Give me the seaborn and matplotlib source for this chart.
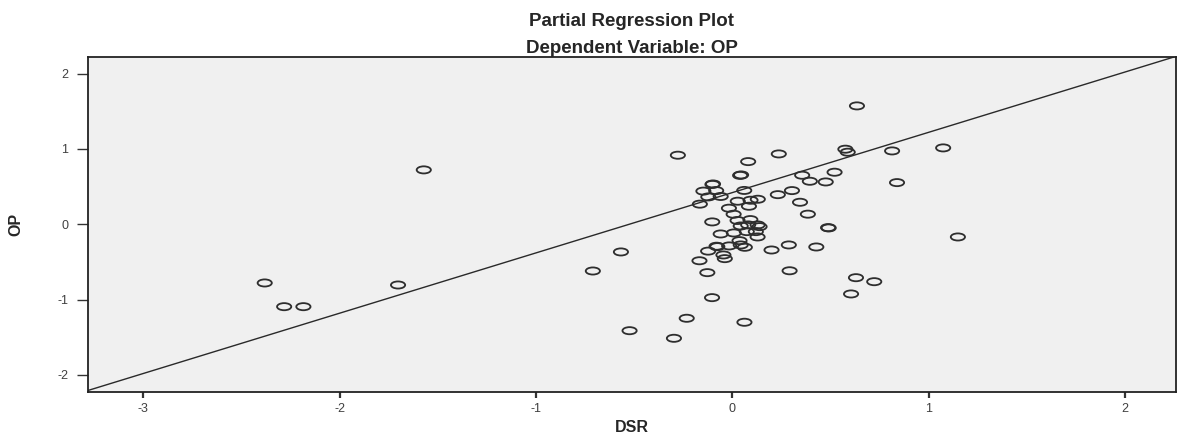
import numpy as np
import pandas as pd
import matplotlib
matplotlib.use("Agg")
import matplotlib.pyplot as plt
from matplotlib.path import Path
from matplotlib.transforms import Affine2D
import seaborn as sns

# ── data ────────────────────────────────────────────────────────────────────
dsr = [-1.571, -2.381, -2.282, -2.184, -1.702,
       0.635, -0.277, 0.081, 0.237, 0.576, 0.588, 0.814, 1.074, 0.839,
       0.040, 0.045, 0.356, 0.521, 0.395, 0.476, -0.101, -0.098,
       -0.147, -0.082, 0.061, 0.304, -0.122, -0.059, 0.232, -0.165,
       0.028, 0.093, 0.130, 0.085, 0.345, -0.017, 0.385, 0.007,
       -0.102, 0.092, 0.027, 0.491, 0.488,
       0.043, 0.081, 0.129, 0.139, 0.074, 0.120, -0.059, 0.008, 0.129,
       1.149, -0.567, 0.037, -0.076, -0.080, -0.016, 0.043, 0.064, 0.288,
       0.428, 0.200, -0.123, -0.045, -0.038, -0.167, -0.710, -0.127,
       0.292, 0.630, 0.723, 0.605, -0.103, -0.232, 0.062, -0.523, -0.297]
op = [0.722, -0.780, -1.095, -1.095, -0.807,
      1.572, 0.917, 0.832, 0.934, 0.997, 0.957, 0.974, 1.014, 0.553,
      0.649, 0.655, 0.651, 0.691, 0.571, 0.562, 0.529, 0.535,
      0.440, 0.447, 0.449, 0.447, 0.363, 0.369, 0.393, 0.267,
      0.306, 0.319, 0.332, 0.239, 0.292, 0.213, 0.134, 0.133,
      0.031, 0.062, 0.050, -0.049, -0.045,
      -0.023, -0.009, -0.009, -0.032, -0.098, -0.098, -0.129, -0.116, -0.169,
      -0.169, -0.368, -0.218, -0.298, -0.292, -0.288, -0.275, -0.306, -0.275,
      -0.302, -0.342, -0.357, -0.408, -0.457, -0.485, -0.621, -0.643,
      -0.618, -0.710, -0.763, -0.926, -0.975, -1.249, -1.302, -1.414, -1.515]

fit_slope = 0.801
fit_intercept = 0.42

x_ticks = [-3, -2, -1, 0, 1, 2]
y_ticks = [-2, -1, 0, 1, 2]

df = pd.DataFrame({"DSR": dsr, "OP": op})

# ── style ───────────────────────────────────────────────────────────────────
sns.set_style("ticks")
plt.rcParams['font.family'] = ['Liberation Sans', 'DejaVu Sans']
plt.rcParams['axes.unicode_minus'] = False

# SPSS 的圓圈被橫向拉長，用橢圓 marker
ellipse = Path.unit_circle().transformed(Affine2D().scale(1.0, 0.5))

fig = plt.figure(figsize=(11.79, 4.36), dpi=100)
ax = fig.add_axes([0.0743, 0.1015, 0.9232, 0.7675])
ax.set_facecolor("#f0f0f0")

sns.scatterplot(data=df, x="DSR", y="OP", ax=ax, marker=ellipse, s=105,
                facecolor="none", edgecolor="#2e2e2e", linewidth=1.3,
                legend=False, zorder=3)

ax.axline((0, fit_intercept), slope=fit_slope, color="#2a2a2a", lw=1.0, zorder=2)

ax.set_xlim(-3.283, 2.26)
ax.set_ylim(-2.225, 2.22)
ax.set_xticks(x_ticks)
ax.set_yticks(y_ticks)
ax.tick_params(axis="x", length=4, width=1.6, colors="#333333", labelsize=9, pad=4)
ax.tick_params(axis="y", length=8, width=1.0, colors="#333333", labelsize=9, pad=6)
for t in ax.get_xticklabels() + ax.get_yticklabels():
    t.set_color("#404040")
for sp in ax.spines.values():
    sp.set_color("#222222")
    sp.set_linewidth(1.3)

ax.set_xlabel("DSR", fontsize=11.5, fontweight="bold", labelpad=4)
ax.set_ylabel("OP", fontsize=11.5, fontweight="bold", labelpad=24)

ax.text(0.5, 1.0, "Partial Regression Plot\nDependent Variable: OP",
        transform=ax.transAxes, ha="center", va="bottom",
        fontsize=13.5, fontweight="bold", linespacing=1.75)

fig.savefig("out.png", dpi=100)
plt.close(fig)
